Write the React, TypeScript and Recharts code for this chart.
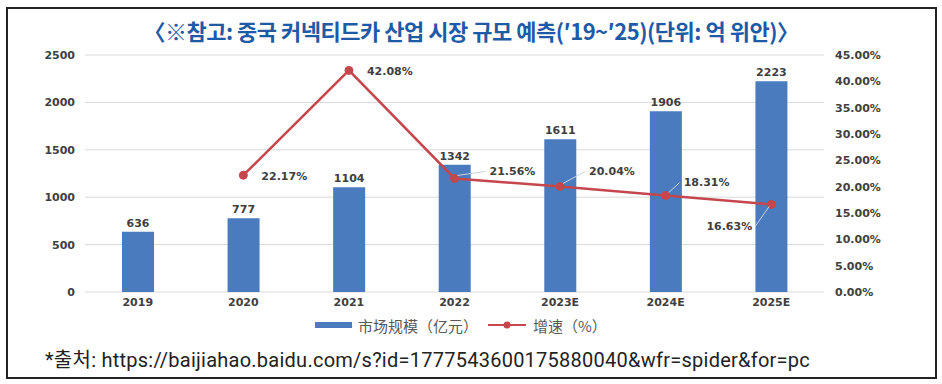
import React from "react";
import {
  ComposedChart,
  Bar,
  Line,
  XAxis,
  YAxis,
  CartesianGrid,
  LabelList,
} from "recharts";

// 중국 커넥티드카 산업 시장 규모 ('19~'25)
const years = ["2019", "2020", "2021", "2022", "2023E", "2024E", "2025E"];
const marketSize = [636, 777, 1104, 1342, 1611, 1906, 2223]; // 亿元
const growthRate = [null, 22.17, 42.08, 21.56, 20.04, 18.31, 16.63]; // %

const leftTicks = [0, 500, 1000, 1500, 2000, 2500];
const rightTicks = [0, 5, 10, 15, 20, 25, 30, 35, 40, 45];

const BAR_COLOR = "#4a7bbf";
const LINE_COLOR = "#c5474d";
const TICK_FONT = "'DejaVu Sans', sans-serif";

const data = years.map((year, i) => ({
  year,
  size: marketSize[i],
  growth: growthRate[i],
}));

// label offset per point (relative to the dot) and whether a small leader line is drawn
const growthLabelPos: Record<number, { dx: number; dy: number; anchor: "start" | "end"; leader?: boolean }> = {
  1: { dx: 18, dy: 1, anchor: "start" },
  2: { dx: 18, dy: 1, anchor: "start" },
  3: { dx: 35, dy: -7, anchor: "start", leader: true },
  4: { dx: 29, dy: -15, anchor: "start", leader: true },
  5: { dx: 18, dy: -13, anchor: "start", leader: true },
  6: { dx: -19, dy: 22, anchor: "end", leader: true },
};

function GrowthLabel(props: any) {
  const { x, y, value } = props;
  if (value == null || x == null || y == null) return null;
  let idx = props.index;
  if (typeof idx !== "number") idx = growthRate.indexOf(value);
  const pos = growthLabelPos[idx] ?? { dx: 18, dy: 0, anchor: "start" };
  const tx = x + pos.dx;
  const ty = y + pos.dy;
  return (
    <g>
      {pos.leader && (
        <line
          x1={x + (pos.anchor === "end" ? -2 : 3)}
          y1={y - (pos.anchor === "end" ? -2 : 3)}
          x2={tx + (pos.anchor === "end" ? 3 : -4)}
          y2={ty}
          stroke="#c9d3e0"
          strokeWidth={1}
        />
      )}
      <text
        x={tx}
        y={ty}
        textAnchor={pos.anchor}
        dominantBaseline="central"
        fontFamily={TICK_FONT}
        fontSize={11}
        fontWeight="bold"
        fill="#404040"
      >
        {Number(value).toFixed(2)}%
      </text>
    </g>
  );
}

export default function App() {
  return (
    <div
      style={{
        position: "absolute",
        left: 0,
        top: 0,
        width: 942,
        height: 384,
        background: "#fff",
        overflow: "hidden",
      }}
    >
      <div
        style={{
          position: "absolute",
          left: 6,
          top: 7,
          width: 931,
          height: 372,
          border: "2px solid #222",
          boxSizing: "border-box",
        }}
      />

      <div
        style={{
          position: "absolute",
          left: 0,
          top: 15,
          width: 942,
          textAlign: "center",
          fontFamily: "'Noto Sans CJK KR', sans-serif",
          fontWeight: "bold",
          fontSize: 22,
          lineHeight: "30px",
          color: "#1f5aa6",
          letterSpacing: -0.5,
        }}
      >
        〈※참고: 중국 커넥티드카 산업 시장 규모 예측(′19~′25)(단위: 억 위안)〉
      </div>

      <div style={{ position: "absolute", left: 0, top: 0 }}>
        <ComposedChart
          width={942}
          height={384}
          data={data}
          margin={{ top: 55, right: 58, bottom: 62, left: 35 }}
        >
          <CartesianGrid yAxisId="left" vertical={false} stroke="#d9d9d9" />
          <XAxis
            dataKey="year"
            axisLine={false}
            tickLine={false}
            tickSize={0}
            tickMargin={6}
            height={30}
            tick={{ fontSize: 11, fontWeight: "bold", fill: "#404040", fontFamily: TICK_FONT }}
          />
          <YAxis
            yAxisId="left"
            orientation="left"
            width={50}
            domain={[0, 2500]}
            ticks={leftTicks}
            axisLine={false}
            tickLine={false}
            tickMargin={4}
            tick={{ fontSize: 11, fontWeight: "bold", fill: "#404040", fontFamily: TICK_FONT }}
          />
          <YAxis
            yAxisId="right"
            orientation="right"
            width={60}
            domain={[0, 45]}
            ticks={rightTicks}
            axisLine={false}
            tickLine={false}
            tickMargin={5}
            tickFormatter={(v) => `${Number(v).toFixed(2)}%`}
            tick={{ fontSize: 11, fontWeight: "bold", fill: "#404040", fontFamily: TICK_FONT }}
          />
          <Bar
            yAxisId="left"
            dataKey="size"
            fill={BAR_COLOR}
            barSize={32}
            isAnimationActive={false}
          >
            <LabelList
              dataKey="size"
              position="top"
              offset={5}
              style={{ fontSize: 11, fontWeight: "bold", fill: "#404040", fontFamily: TICK_FONT }}
            />
          </Bar>
          <Line
            yAxisId="right"
            dataKey="growth"
            stroke={LINE_COLOR}
            strokeWidth={2.5}
            dot={{ r: 4, fill: LINE_COLOR, stroke: LINE_COLOR, strokeWidth: 1 }}
            label={GrowthLabel}
            isAnimationActive={false}
          />
        </ComposedChart>
      </div>

      {/* legend */}
      <div
        style={{
          position: "absolute",
          left: 315,
          top: 315,
          height: 20,
          display: "flex",
          alignItems: "center",
          fontFamily: "'Noto Sans CJK SC', sans-serif",
          fontSize: 15,
          color: "#595959",
        }}
      >
        <span style={{ display: "inline-block", width: 37, height: 6, background: BAR_COLOR, marginRight: 6 }} />
        <span>市场规模（亿元）</span>
        <svg width={38} height={10} style={{ margin: "0 7px 0 10px" }}>
          <line x1={0} y1={5} x2={38} y2={5} stroke={LINE_COLOR} strokeWidth={2} />
          <circle cx={19} cy={5} r={3.5} fill={LINE_COLOR} />
        </svg>
        <span>增速（%）</span>
      </div>

      {/* source */}
      <div
        style={{
          position: "absolute",
          left: 45,
          top: 346,
          fontFamily: "Roboto, 'Noto Sans CJK KR', sans-serif",
          fontSize: 20,
          lineHeight: "28px",
          color: "#222",
          letterSpacing: 0.25,
          whiteSpace: "nowrap",
        }}
      >
        *출처: https://baijiahao.baidu.com/s?id=1777543600175880040&wfr=spider&for=pc
      </div>
    </div>
  );
}
